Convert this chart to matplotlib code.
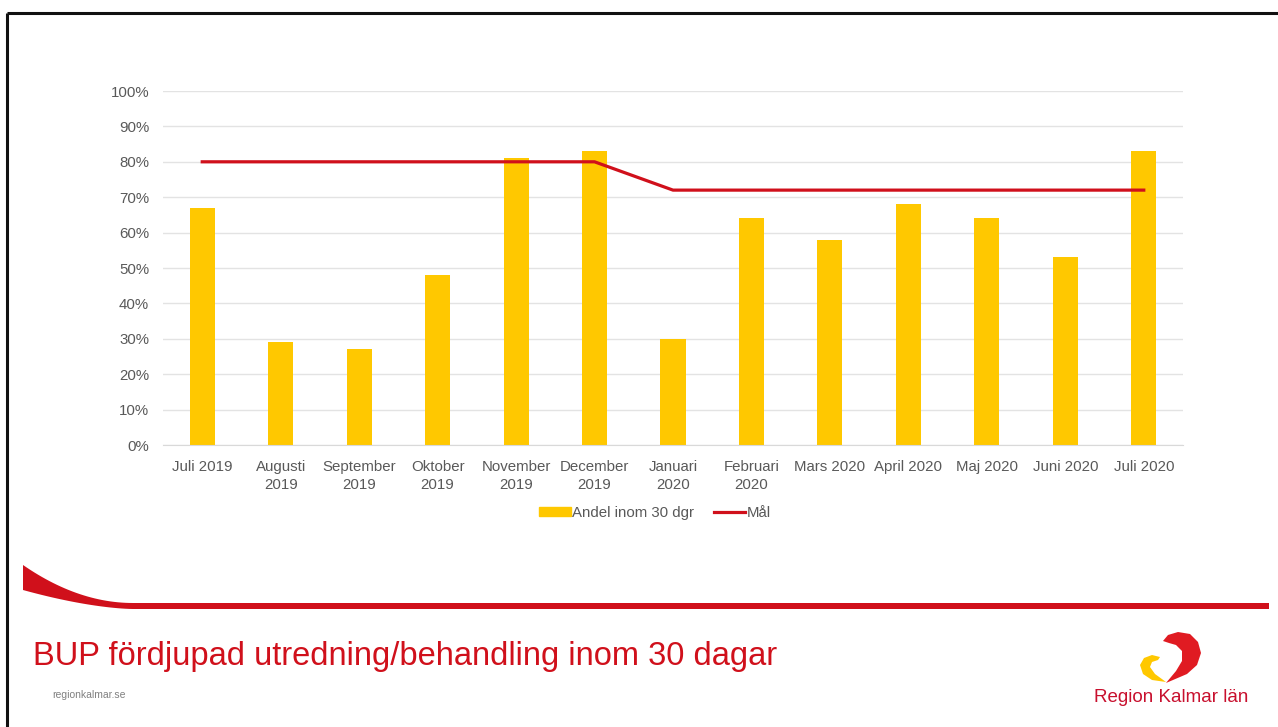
import matplotlib.pyplot as plt
import numpy as np
from matplotlib.patches import Polygon
from matplotlib.lines import Line2D

months = ['Juli 2019', 'Augusti\n2019', 'September\n2019', 'Oktober\n2019',
          'November\n2019', 'December\n2019', 'Januari\n2020', 'Februari\n2020',
          'Mars 2020', 'April 2020', 'Maj 2020', 'Juni 2020', 'Juli 2020']
andel = [67, 29, 27, 48, 81, 83, 30, 64, 58, 68, 64, 53, 83]
mal = [80, 80, 80, 80, 80, 80, 72, 72, 72, 72, 72, 72, 72]

W, H = 1278, 727
yellow = '#ffc800'
red = '#d0101b'
grey = '#595959'

plt.rcParams['font.family'] = ['Liberation Sans', 'DejaVu Sans']

fig = plt.figure(figsize=(W / 100, H / 100), dpi=100)

# background decorations in pixel coordinates
bg = fig.add_axes([0, 0, 1, 1])
bg.set_xlim(0, W)
bg.set_ylim(H, 0)
bg.axis('off')
bg.plot([7, W], [13, 13], color='#111111', lw=2.2, solid_capstyle='butt')
bg.plot([7, 7], [13, H], color='#111111', lw=2.2, solid_capstyle='butt')

# red swoosh
t = np.linspace(0, 1, 30)
top_x = 23 + 110 * t
top_y = 565 + 38 * (1 - (1 - t) ** 2)
bot_x = 23 + 110 * t
bot_y = 590 + 19 * (1 - (1 - t) ** 1.6)
swoosh = list(zip(top_x, top_y)) + [(1269, 603), (1269, 609)] + list(zip(bot_x[::-1], bot_y[::-1]))
bg.add_patch(Polygon(swoosh, closed=True, color=red, lw=0))

bg.text(33, 656, 'BUP fördjupad utredning/behandling inom 30 dagar', color=red,
        fontsize=23.5, va='center', ha='left')
bg.text(52, 695, 'regionkalmar.se', color='#808080', fontsize=7.5, va='center', ha='left')

# logo
heart = [(1163, 641), (1168, 635), (1178, 632), (1190, 634), (1198, 642), (1201, 653),
         (1197, 665), (1187, 674), (1166, 683), (1176, 671), (1182, 661), (1182, 651),
         (1176, 645), (1169, 643)]
bg.add_patch(Polygon(heart, closed=True, color='#e01b22', lw=0))
crescent = [(1140, 665), (1144, 658), (1152, 655), (1160, 657), (1158, 660), (1152, 662),
            (1150, 667), (1155, 674), (1166, 682), (1152, 680), (1143, 674)]
bg.add_patch(Polygon(crescent, closed=True, color=yellow, lw=0))
bg.text(1171, 698, 'Region Kalmar län', color='#c8102e', fontsize=13.5, va='center', ha='center')

# chart
ax = fig.add_axes([163 / W, 1 - 445 / H, (1183 - 163) / W, (445 - 91) / H])
ax.patch.set_alpha(0)
x = np.arange(len(months))
ax.bar(x, andel, width=0.32, color=yellow, zorder=2, label='Andel inom 30 dgr')
ax.plot(x, mal, color=red, lw=2.3, zorder=3, label='Mål')
ax.set_xlim(-0.5, len(months) - 0.5)
ax.set_ylim(0, 100)
ax.set_yticks(range(0, 101, 10))
ax.set_yticklabels(['%d%%' % v for v in range(0, 101, 10)])
ax.set_xticks(x)
ax.set_xticklabels(months)
ax.grid(axis='y', color='#e3e3e3', lw=1, zorder=0)
for s in ['top', 'right', 'left']:
    ax.spines[s].set_visible(False)
ax.spines['bottom'].set_color('#d9d9d9')
ax.tick_params(length=0, labelsize=10.8, colors=grey)
ax.tick_params(axis='y', pad=10)
ax.tick_params(axis='x', pad=11)
for lab in ax.get_xticklabels():
    lab.set_linespacing(1.35)

handles = [plt.Rectangle((0, 0), 1, 1, color=yellow), Line2D([], [], color=red, lw=2.3)]
fig.legend(handles, ['Andel inom 30 dgr', 'Mål'], loc='center',
           bbox_to_anchor=(655 / W, 1 - 513 / H), ncol=2, frameon=False,
           fontsize=10.8, labelcolor=grey, handlelength=2.1, handleheight=0.5,
           columnspacing=1.3, handletextpad=0.1)

fig.savefig('out.png', dpi=100)
